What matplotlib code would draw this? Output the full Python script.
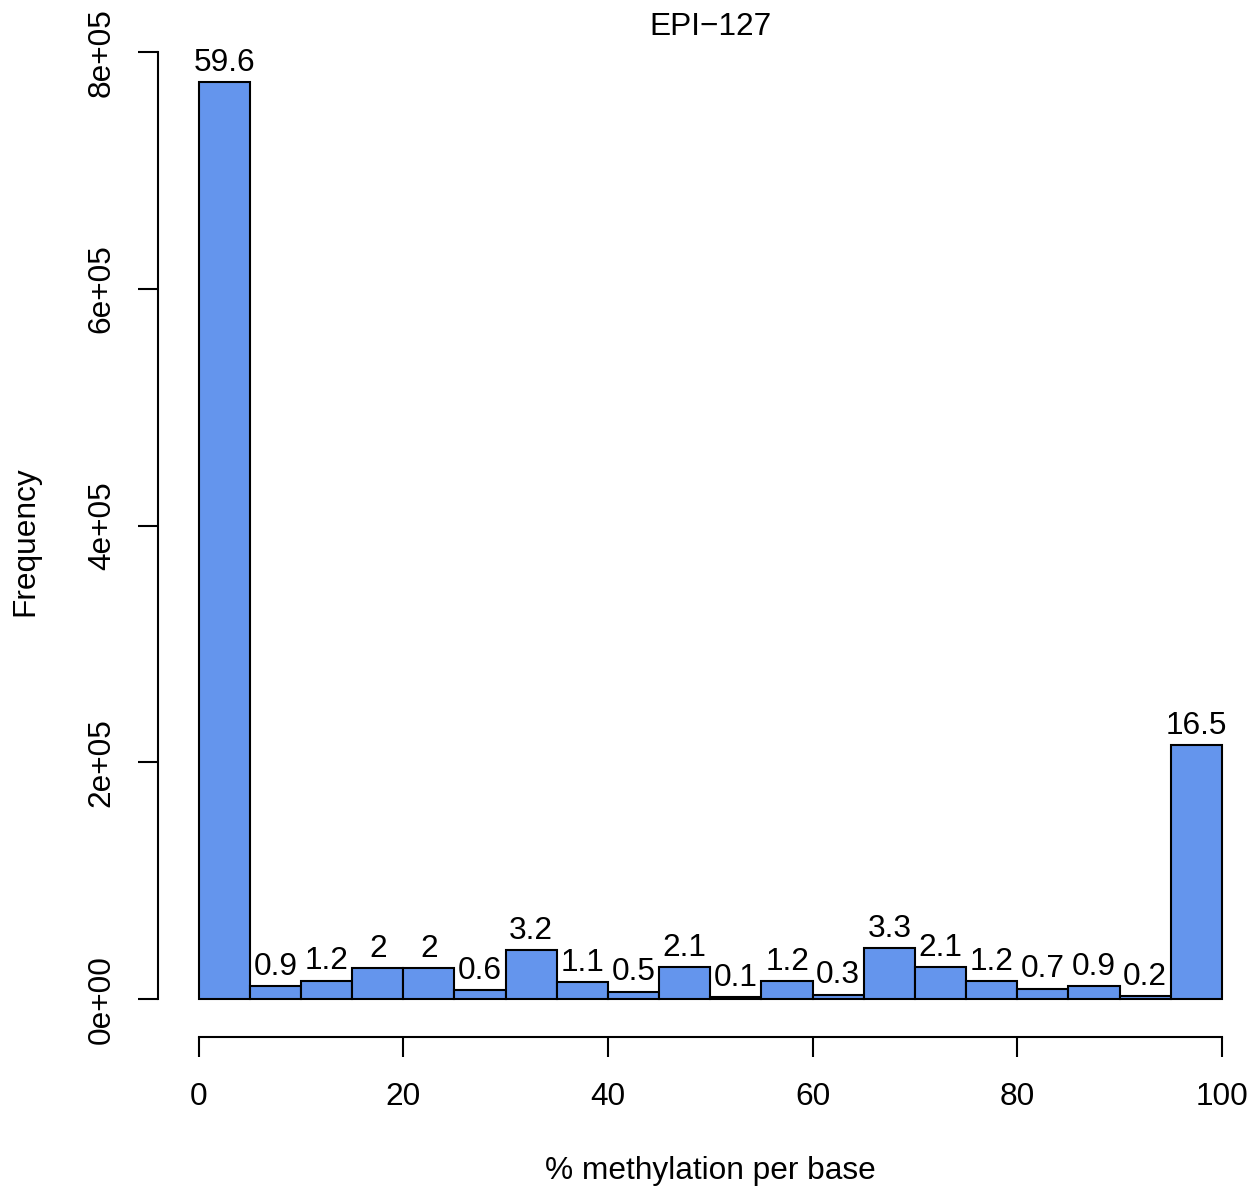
import matplotlib.pyplot as plt

# histogram bins (5% wide) and counts per bin
bin_edges = [0, 5, 10, 15, 20, 25, 30, 35, 40, 45, 50,
             55, 60, 65, 70, 75, 80, 85, 90, 95, 100]
counts = [775000, 11500, 15800, 26000, 26500, 8000, 41500, 14500, 6500, 27500,
          1500, 15500, 4000, 43000, 27000, 15500, 9000, 11500, 2500, 214500]
pct_labels = ["59.6", "0.9", "1.2", "2", "2", "0.6", "3.2", "1.1", "0.5", "2.1",
              "0.1", "1.2", "0.3", "3.3", "2.1", "1.2", "0.7", "0.9", "0.2", "16.5"]
x_ticks = [0, 20, 40, 60, 80, 100]
y_ticks = [0, 200000, 400000, 600000, 800000]
y_tick_labels = ["0e+00", "2e+05", "4e+05", "6e+05", "8e+05"]

plt.rcParams['font.family'] = ['Liberation Sans', 'DejaVu Sans']
fs = 22.8

def main():
    fig = plt.figure(figsize=(12.51, 11.88), dpi=100)
    ax = fig.add_axes([0.1261, 0.1274, 0.8834, 0.8348])

    lefts = bin_edges[:-1]
    widths = [b - a for a, b in zip(bin_edges[:-1], bin_edges[1:])]
    bars = ax.bar(lefts, counts, width=widths, align='edge',
                  color='#6495ED', edgecolor='black', linewidth=1.5)

    # percentage labels on top of each bar
    for rect, lab in zip(bars, pct_labels):
        ax.annotate(lab, (rect.get_x() + rect.get_width() / 2, rect.get_height()),
                    xytext=(0, 8), textcoords='offset points',
                    ha='center', va='baseline', fontsize=fs)

    ax.set_xlim(-4, 104)
    ax.set_ylim(-31600, 806200)

    for s in ['top', 'right']:
        ax.spines[s].set_visible(False)
    ax.spines['left'].set_bounds(0, 800000)
    ax.spines['bottom'].set_bounds(0, 100)
    ax.spines['left'].set_linewidth(1.5)
    ax.spines['bottom'].set_linewidth(1.5)

    ax.set_xticks(x_ticks)
    ax.set_xticklabels([str(t) for t in x_ticks])
    ax.set_yticks(y_ticks)
    ax.set_yticklabels(y_tick_labels, rotation=90, va='center')
    ax.tick_params(axis='both', length=14.5, width=1.5, labelsize=fs)
    ax.tick_params(axis='x', pad=18)
    ax.tick_params(axis='y', pad=15)

    ax.set_xlabel('% methylation per base', fontsize=fs)
    ax.xaxis.set_label_coords(0.5, -0.1354)
    ax.xaxis.label.set_va('center')
    ax.set_ylabel('Frequency', fontsize=fs)
    ax.yaxis.set_label_coords(-0.12, 0.5)
    ax.yaxis.label.set_va('center')

    ax.text(0.5, 1.018, 'EPI\u2212127', transform=ax.transAxes,
            ha='center', va='center', fontsize=fs)

    fig.savefig('out.png', dpi=100)

if __name__ == "__main__":
    main()
